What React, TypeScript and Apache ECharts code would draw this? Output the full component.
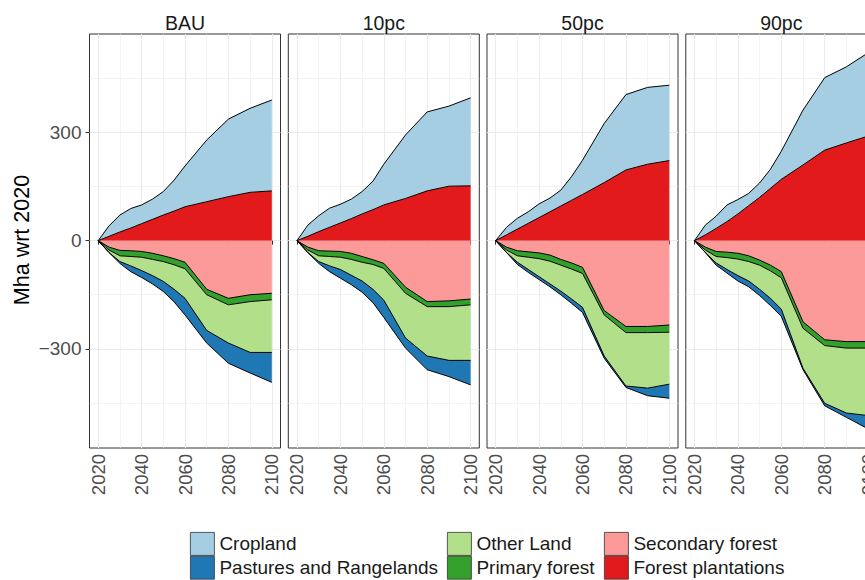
import React, { useEffect, useRef } from "react";
import * as echarts from "echarts";

// ---------- data ----------
const years = [2020, 2025, 2030, 2035, 2040, 2045, 2050, 2055, 2060, 2070, 2080, 2090, 2100];
const scenarios = ["BAU", "10pc", "50pc", "90pc"];
const xTicks = [2020, 2040, 2060, 2080, 2100];
const yTicks = [-300, 0, 300];

// values per scenario (BAU, 10pc, 50pc, 90pc), Mha relative to 2020
const forestPlantations = [
  [0, 12, 24, 35, 47, 59, 71, 82, 94, 108, 122, 134, 138],
  [0, 12, 25, 37, 49, 61, 74, 86, 99, 117, 138, 151, 152],
  [0, 16, 32, 48, 64, 80, 96, 112, 128, 161, 196, 212, 222],
  [0, 16, 34, 53, 74, 97, 120, 145, 170, 210, 251, 271, 290],
];
const cropland = [
  [0, 29, 47, 54, 52, 56, 65, 86, 113, 171, 215, 233, 252],
  [0, 31, 44, 53, 52, 54, 62, 79, 113, 176, 219, 222, 244],
  [0, 21, 30, 32, 38, 38, 44, 66, 95, 164, 209, 213, 209],
  [0, 27, 34, 46, 40, 34, 40, 53, 78, 152, 201, 211, 231],
];
const secondaryForest = [
  [0, -18, -27, -28, -30, -35, -42, -50, -60, -135, -160, -150, -146],
  [0, -18, -28, -29, -30, -35, -44, -53, -63, -129, -169, -167, -162],
  [0, -18, -28, -31, -34, -40, -52, -62, -74, -194, -238, -238, -234],
  [0, -18, -30, -32, -35, -42, -54, -68, -86, -225, -275, -280, -280],
];
const primaryForest = [
  [0, -8, -15, -16, -16, -17, -16, -17, -18, -15, -18, -19, -18],
  [0, -8, -14, -15, -16, -17, -16, -13, -14, -17, -14, -16, -16],
  [0, -8, -14, -15, -16, -17, -16, -17, -17, -12, -17, -17, -20],
  [0, -8, -14, -15, -16, -16, -14, -16, -17, -18, -16, -18, -18],
];
const otherLand = [
  [0, -7, -16, -26, -37, -45, -55, -68, -82, -99, -106, -141, -146],
  [0, -7, -16, -26, -34, -44, -52, -69, -88, -124, -137, -149, -154],
  [0, -7, -18, -34, -50, -63, -72, -83, -94, -114, -148, -154, -144],
  [0, -7, -18, -33, -46, -54, -67, -76, -87, -111, -160, -180, -187],
];
const pastures = [
  [0, 0, -5, -16, -19, -23, -28, -35, -46, -35, -56, -57, -83],
  [0, 0, -5, -16, -24, -26, -31, -37, -48, -28, -38, -45, -68],
  [0, 0, -6, -8, -8, -8, -10, -12, -14, -6, -4, -21, -39],
  [0, 0, -6, -10, -15, -16, -17, -20, -20, -4, -7, -12, -37],
];

// ---------- styling ----------
const FONT = "'Liberation Sans', Arial, Helvetica, sans-serif";
const landTypes = [
  { name: "Forest plantations", values: forestPlantations, color: "#E31A1C", sign: "pos" },
  { name: "Cropland", values: cropland, color: "#A6CEE3", sign: "pos" },
  { name: "Secondary forest", values: secondaryForest, color: "#FB9A99", sign: "neg" },
  { name: "Primary forest", values: primaryForest, color: "#33A02C", sign: "neg" },
  { name: "Other Land", values: otherLand, color: "#B2DF8A", sign: "neg" },
  { name: "Pastures and Rangelands", values: pastures, color: "#1F78B4", sign: "neg" },
];
const colorOf = (n: string) => landTypes.find((l) => l.name === n)!.color;

const PANEL_LEFT = [89.5, 288.3, 487, 685.8];
const PANEL_W = 191;
const PANEL_TOP = 34;
const PANEL_H = 414;

export default function App() {
  const ref = useRef<HTMLDivElement>(null);
  useEffect(() => {
    document.body.style.margin = "0";
    const chart = echarts.init(ref.current!, undefined, { renderer: "svg" });

    const grids = scenarios.map((_, i) => ({
      left: PANEL_LEFT[i],
      top: PANEL_TOP,
      width: PANEL_W,
      height: PANEL_H,
      show: true,
      borderColor: "#333333",
      borderWidth: 1,
      backgroundColor: "#ffffff",
      containLabel: false,
      outerBoundsMode: "none",
    }));

    const xAxes = scenarios.map((_, i) => ({
      type: "value",
      gridIndex: i,
      min: 2016,
      max: 2104,
      minInterval: 20,
      maxInterval: 20,
      splitNumber: 4,
      axisLine: { show: false },
      axisTick: { show: true, length: 4, lineStyle: { color: "#333333", width: 1 }, customValues: xTicks },
      axisLabel: {
        show: true,
        rotate: 90,
        margin: 6,
        fontSize: 18.5,
        color: "#4D4D4D",
        fontFamily: FONT,
        customValues: xTicks,
        formatter: (v: number) => (v % 20 === 0 ? String(v) : ""),
      },
      splitLine: { show: true, lineStyle: { color: "#EBEBEB", width: 1.1 } },
      minorTick: { show: false, splitNumber: 2 },
      minorSplitLine: { show: true, lineStyle: { color: "#EBEBEB", width: 0.6 } },
    }));

    const yAxes = scenarios.map((_, i) => ({
      type: "value",
      gridIndex: i,
      min: -575,
      max: 573,
      minInterval: 300,
      maxInterval: 300,
      splitNumber: 4,
      axisLine: { show: false },
      axisTick: { show: i === 0, length: 4, lineStyle: { color: "#333333", width: 1 }, customValues: yTicks },
      axisLabel: {
        show: i === 0,
        margin: 8,
        fontSize: 19,
        color: "#4D4D4D",
        fontFamily: FONT,
        customValues: yTicks,
        formatter: (v: number) =>
          v % 300 !== 0 ? "" : v < 0 ? "\u2212" + Math.abs(v) : String(v),
      },
      splitLine: { show: true, lineStyle: { color: "#EBEBEB", width: 1.1 } },
      minorTick: { show: false, splitNumber: 2 },
      minorSplitLine: { show: true, lineStyle: { color: "#EBEBEB", width: 0.6 } },
    }));

    // data rows are [value, year] so that the stacked dimension is the first (y) one
    const series: any[] = [];
    scenarios.forEach((_, i) => {
      landTypes.forEach((lt) => {
        series.push({
          type: "line",
          name: lt.name,
          xAxisIndex: i,
          yAxisIndex: i,
          stack: lt.sign + i,
          encode: { x: 1, y: 0 },
          symbol: "none",
          showSymbol: false,
          silent: true,
          data: years.map((y, k) => [lt.values[i][k], y]),
          lineStyle: { color: "#000000", width: 1 },
          areaStyle: { color: lt.color, opacity: 1 },
          itemStyle: { color: lt.color },
          emphasis: { disabled: true },
        });
      });
    });

    const legendCols = [
      { left: 190, names: ["Cropland", "Pastures and Rangelands"] },
      { left: 447, names: ["Other Land", "Primary forest"] },
      { left: 604, names: ["Secondary forest", "Forest plantations"] },
    ];
    const legends = legendCols.map((c) => ({
      left: c.left,
      top: 532,
      orient: "vertical",
      itemWidth: 24,
      itemHeight: 23,
      itemGap: 0,
      padding: 0,
      icon: "rect",
      selectedMode: false,
      itemStyle: { borderColor: "#333333", borderWidth: 0.8 },
      textStyle: { fontSize: 19, color: "#1A1A1A", fontFamily: FONT },
      data: c.names.map((n) => ({ name: n, itemStyle: { color: colorOf(n) } })),
    }));

    const graphics: any[] = scenarios.map((s, i) => ({
      type: "text",
      x: PANEL_LEFT[i] + PANEL_W / 2,
      y: 23,
      style: { text: s, fontSize: 19.5, fill: "#1A1A1A", align: "center", verticalAlign: "middle", fontFamily: FONT },
    }));
    graphics.push({
      type: "text",
      x: 22,
      y: 240,
      rotation: Math.PI / 2,
      style: {
        text: "Mha wrt 2020",
        fontSize: 21.5,
        fill: "#000000",
        align: "center",
        verticalAlign: "middle",
        fontFamily: FONT,
      },
    });

    chart.setOption({
      animation: false,
      backgroundColor: "#ffffff",
      textStyle: { fontFamily: FONT },
      grid: grids,
      xAxis: xAxes,
      yAxis: yAxes,
      legend: legends,
      graphic: graphics,
      series,
    });
    return () => chart.dispose();
  }, []);
  return (
    <div
      ref={ref}
      style={{ position: "absolute", left: 0, top: 0, width: 865, height: 580 }}
    />
  );
}
